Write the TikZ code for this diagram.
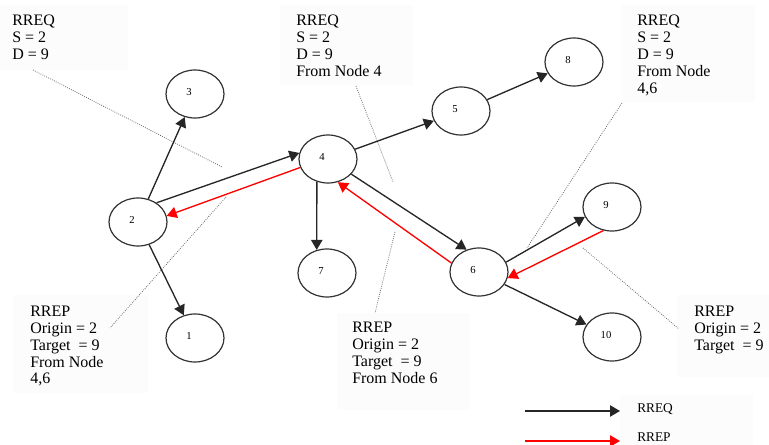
\documentclass[tikz,border=0pt]{standalone}
\usepackage{fontspec}
\setmainfont{Liberation Serif}
\usetikzlibrary{shapes.geometric,arrows.meta}
\newcommand\nlbl[1]{\raisebox{3pt}{#1}\kern9pt}
\tikzset{
  px/.style={x=0.75pt,y=-0.75pt},
  nd/.style={ellipse,draw=black!80,line width=0.9pt,fill=white,minimum width=43.5pt,minimum height=36pt,inner sep=0pt,font=\fontsize{8pt}{9pt}\selectfont},
  req/.style={draw=black!85,line width=1pt,-{Triangle[length=7.5pt,width=8.5pt]}},
  rep/.style={draw=red,line width=1pt,-{Triangle[length=7.5pt,width=8.5pt]}},
  note/.style={anchor=north west,align=left,inner sep=0pt,font=\fontsize{12pt}{12.6pt}\selectfont},
  lgd/.style={anchor=north west,inner sep=0pt,font=\fontsize{10pt}{11pt}\selectfont},
  bgbox/.style={fill=black!1,draw=none},
  dot/.style={draw=black!60,densely dotted,line width=0.6pt}
}
\begin{document}
\begin{tikzpicture}[px]
\useasboundingbox (0,0) rectangle (769,445);
\clip (0,0) rectangle (769,445);
% faint background boxes
\fill[bgbox] (0,5) rectangle (128,70);
\fill[bgbox] (280,5) rectangle (413,85);
\fill[bgbox] (622,5) rectangle (755,102);
\fill[bgbox] (13,295) rectangle (148,393);
\fill[bgbox] (337,313) rectangle (470,410);
\fill[bgbox] (677,295) rectangle (769,377);
\fill[bgbox] (620,395) rectangle (753,445);
% dotted pointer lines
\coordinate (d1a) at (33,70);   \coordinate (d1b) at (222,167);
\coordinate (d2a) at (226,197); \coordinate (d2b) at (110,328);
\coordinate (d3a) at (356,86);  \coordinate (d3b) at (393,182);
\coordinate (d4a) at (622,103); \coordinate (d4b) at (527,248);
\coordinate (d5a) at (395,232); \coordinate (d5b) at (375,313);
\coordinate (d6a) at (583,248); \coordinate (d6b) at (679,329);
\draw[dot] (d1a) -- (d1b);
\draw[dot] (d2a) -- (d2b);
\draw[dot] (d3a) -- (d3b);
\draw[dot] (d4a) -- (d4b);
\draw[dot] (d5a) -- (d5b);
\draw[dot] (d6a) -- (d6b);
% nodes
\node[nd] (n1) at (195,338) {\nlbl{1}};
\node[nd] (n2) at (138,222) {\nlbl{2}};
\node[nd] (n3) at (195,94) {\nlbl{3}};
\node[nd] (n4) at (328,159) {\nlbl{4}};
\node[nd] (n5) at (461,111) {\nlbl{5}};
\node[nd] (n6) at (479,272) {\nlbl{6}};
\node[nd] (n7) at (327,273) {\nlbl{7}};
\node[nd] (n8) at (574,62) {\nlbl{8}};
\node[nd] (n9) at (612,207) {\nlbl{9}};
\node[nd] (n10) at (612,337) {\nlbl{10}};
% RREQ arrows
\draw[req] (n2) -- (n3);
\draw[req] (n2) -- (n1);
\draw[req] (n2.46) -- (n4.168);
\draw[req] (n4.244) -- (n7.114);
\draw[req] (n4) -- (n5);
\draw[req] (n5) -- (n8);
\draw[req] (n4.-33) -- (n6.119);
\draw[req] (n6.20) -- (n9.200);
\draw[req] (n6) -- (n10);
% RREP arrows
\draw[rep] (n4.197) -- (n2.12);
\draw[rep] (n6.162) -- (n4.-67);
\draw[rep] (n9.250) -- (n6.-12);
% notes
\node[note] (t1) at (12,15) {RREQ\\S = 2\\D = 9};
\node[note] (t2) at (296,15) {RREQ\\S = 2\\D = 9\\From Node 4};
\node[note] (t3) at (637,15) {RREQ\\S = 2\\D = 9\\From Node\\4,6};
\node[note] (t4) at (30,306) {RREP\\Origin = 2\\Target \ = 9\\From Node\\4,6};
\node[note] (t5) at (352,322) {RREP\\Origin = 2\\Target \ = 9\\From Node 6};
\node[note] (t6) at (694,306) {RREP\\Origin = 2\\Target \ = 9};
% legend
\coordinate (la1) at (525,411); \coordinate (la2) at (620,411);
\coordinate (lb1) at (525,441); \coordinate (lb2) at (620,441);
\draw[req] (la1) -- (la2);
\draw[rep] (lb1) -- (lb2);
\node[lgd] (lt1) at (637,403) {RREQ};
\node[lgd] (lt2) at (637,433) {RREP};
\end{tikzpicture}
\end{document}
